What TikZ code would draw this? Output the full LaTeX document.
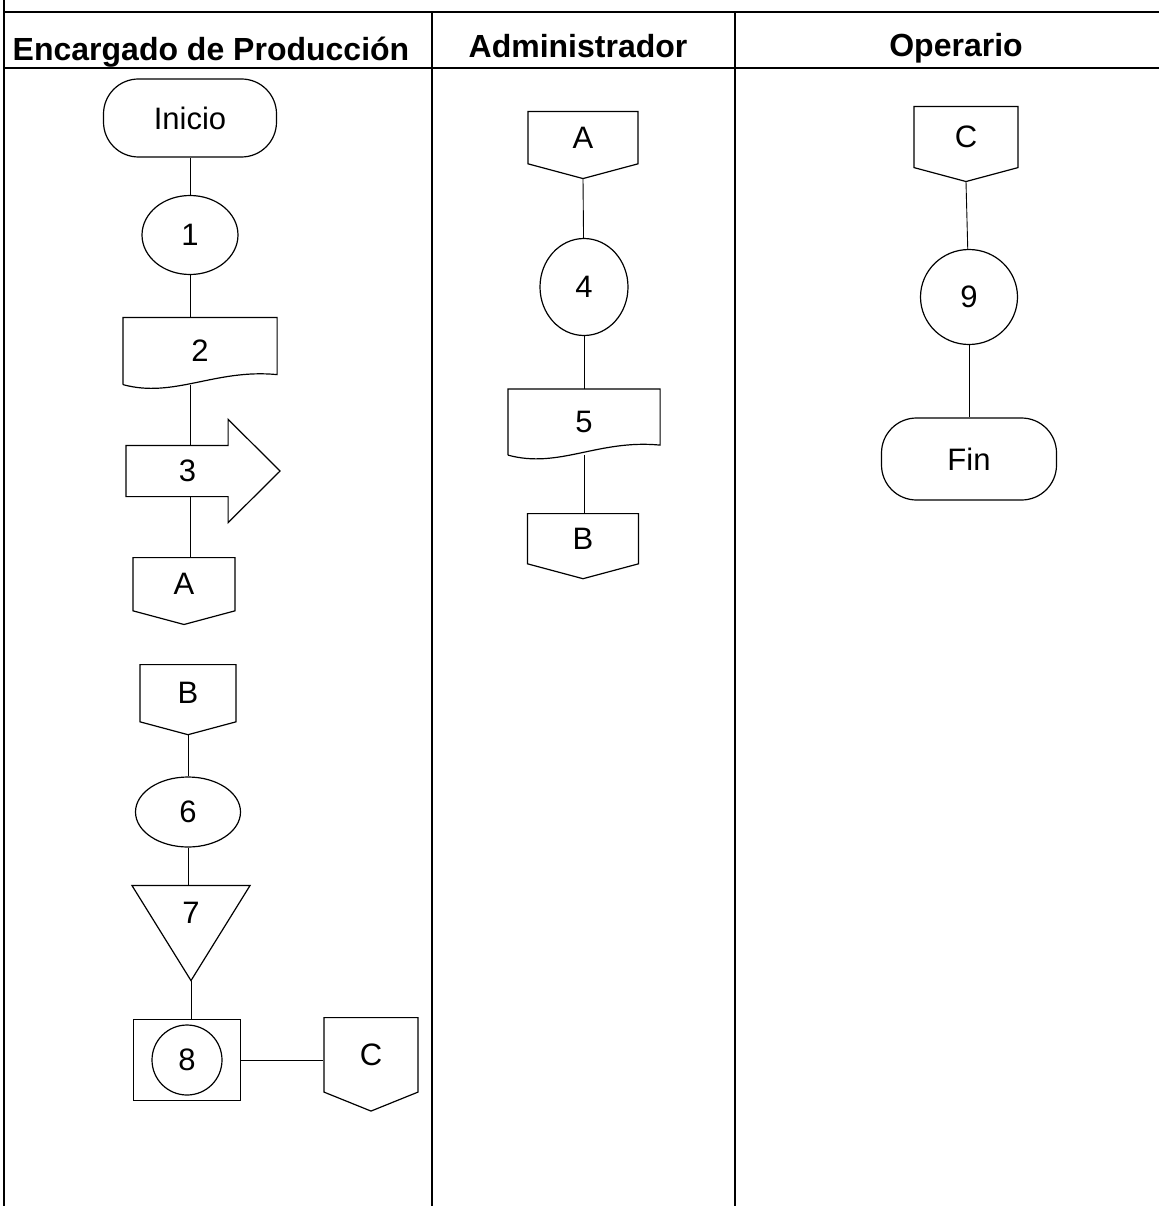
\documentclass[tikz,border=0pt]{standalone}
\usepackage{fontspec}
\setmainfont{Liberation Sans}
\usetikzlibrary{shapes.geometric, shapes.symbols, positioning}

\begin{document}
\begin{tikzpicture}[
  x=1pt, y=-1pt,
  lane/.style={line width=1.5pt},
  lanehead/.style={font=\fontsize{32}{38}\selectfont\bfseries, anchor=base, inner sep=0pt},
  shapebase/.style={draw, line width=1.2pt, font=\fontsize{31}{37}\selectfont, inner sep=0pt},
  term/.style={shapebase, rectangle, rounded corners=35pt, minimum width=173pt, minimum height=78pt},
  oper/.style={shapebase, ellipse},
  docbox/.style={shapebase, draw=none, rectangle, minimum width=153pt, minimum height=66pt},
  offpage/.style={shapebase, signal, signal to=south, signal pointer angle=150, anchor=north},
  link/.style={line width=0.9pt},
]
\useasboundingbox (0,0) rectangle (1159,1206);

% lanes
\draw[lane] (4,0) -- (4,1206);
\draw[lane] (4,12) -- (1159,12);
\draw[lane] (4,68) -- (1159,68);
\draw[lane] (432,12) -- (432,1206);
\draw[lane] (735,12) -- (735,1206);
\node[lanehead] (h1) at (211,61) {Encargado de Producción};
\node[lanehead] (h2) at (578,58) {Administrador};
\node[lanehead] (h3) at (956,57) {Operario};

% Encargado de Produccion
\node[term] (ini) at (190,118) {Inicio};
\node[oper, minimum width=96pt, minimum height=79pt] (c1) at (190,235) {1};
\node[docbox] (d2) at (200,351) {2};
\node[shapebase, draw=none, minimum width=101pt, minimum height=50pt] (p3) at (177,471) {\hspace*{21pt}3};
\node[offpage, minimum width=102pt, minimum height=56pt] (a1) at (184,557) {A};
\node[offpage, minimum width=96pt, minimum height=60pt] (b1) at (188,664) {B};
\node[oper, minimum width=105pt, minimum height=70pt] (c6) at (188,812) {6};
\node[shapebase, draw=none, minimum width=117pt, minimum height=94pt, text depth=40pt] (t7) at (191,933) {7};
\node[shapebase, minimum width=107pt, minimum height=81pt,
  path picture={\draw[line width=1.2pt] (path picture bounding box.center) circle (35pt);}] (b8) at (187,1060) {8};
\node[offpage, signal pointer angle=136, minimum width=94pt, minimum height=79pt] (cc1) at (371,1017) {C};

% Administrador
\node[offpage, minimum width=110pt, minimum height=55pt] (a2) at (583,111) {A};
\node[oper, minimum width=88pt, minimum height=97pt] (c4) at (584,287) {4};
\node[docbox, minimum width=151pt, minimum height=65pt] (d5) at (584,422) {5};
\node[offpage, minimum width=111pt, minimum height=53pt] (b2) at (583,513) {B};

% Operario
\node[offpage, minimum width=104pt, minimum height=64pt] (cc3) at (966,106) {C};
\node[oper, minimum width=97pt, minimum height=95pt] (c9) at (969,297) {9};
\node[term, minimum width=175pt, minimum height=82pt] (fin) at (969,459) {Fin};

% outlines of document, arrow and triangle
\foreach \d in {d2,d5}
  \draw[line width=1.2pt] (\d.south west) -- (\d.north west) -- (\d.north east) -- ([yshift=10pt]\d.south east)
    .. controls ([xshift=-62pt,yshift=16pt]\d.south east) and ([xshift=51pt,yshift=-14pt]\d.south west) .. (\d.south west);
\draw[line width=1.2pt] (p3.north east) -- (p3.north west) -- (p3.south west) -- (p3.south east)
  -- ([yshift=-26pt]p3.south east) -- ([xshift=52pt]p3.east) -- ([yshift=26pt]p3.north east) -- cycle;
\draw[line width=1.2pt] (t7.north west) -- (t7.north east) -- (t7.south) -- cycle;

% connectors
\draw[link] (ini) -- (c1);
\draw[link] (c1) -- (c1 |- d2.north);
\draw[link] (c1 |- d2.south) -- (c1 |- p3.north);
\draw[link] (c1 |- p3.south) -- (c1 |- a1.north);
\draw[link] (b1.south) -- (c6);
\draw[link] (c6) -- (c6 |- t7.north);
\draw[link] (t7.south) -- (t7.south |- b8.north);
\draw[link] (b8.east) -- (b8.east -| cc1.west);
\draw[link] (a2.south) -- (c4);
\draw[link] (c4) -- (c4 |- d5.north);
\draw[link] (c4 |- d5.south) -- (c4 |- b2.north);
\draw[link] (cc3.south) -- (c9);
\draw[link] (c9) -- (fin);
\end{tikzpicture}
\end{document}
